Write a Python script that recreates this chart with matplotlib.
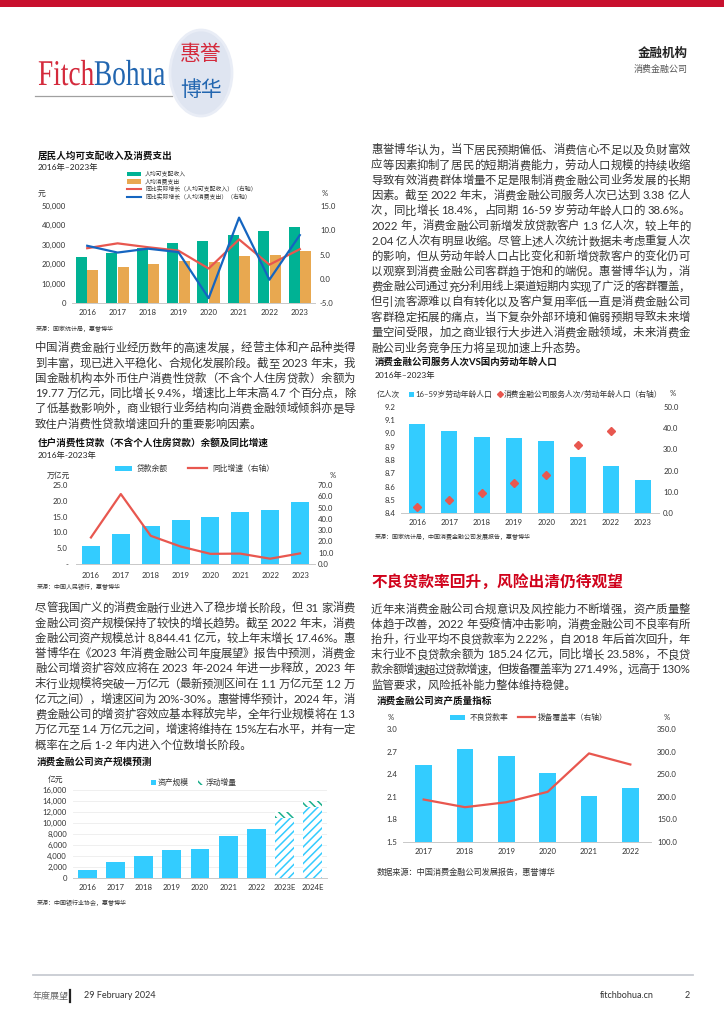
import re
import numpy as np
import matplotlib
matplotlib.use('Agg')
import matplotlib.pyplot as plt
from matplotlib.patches import Ellipse, Rectangle, PathPatch
from matplotlib.font_manager import FontProperties
from matplotlib.ticker import FuncFormatter
from matplotlib.textpath import TextPath
from matplotlib.transforms import Affine2D

W, H = 724, 1024
FAM = ['Lato', 'Noto Sans CJK SC', 'DejaVu Sans']
plt.rcParams['font.family'] = FAM
plt.rcParams['hatch.linewidth'] = 1.1

# ---- data ----
years = ['2016', '2017', '2018', '2019', '2020', '2021', '2022', '2023']
income = [23821, 25974, 28228, 30733, 32189, 35128, 36883, 39218]
spend = [17111, 18322, 19853, 21559, 21210, 24100, 24538, 26796]
income_growth = [6.3, 7.3, 6.5, 5.8, 2.1, 8.1, 2.9, 6.1]
spend_growth = [6.8, 5.4, 6.2, 5.5, -4.0, 12.6, -0.2, 9.0]

loan_balance = [5.8, 9.5, 11.9, 13.8, 15.0, 16.5, 17.2, 19.77]
loan_growth = [23.5, 62.0, 25.0, 15.5, 9.0, 9.2, 4.7, 9.4]

asset_years = ['2016', '2017', '2018', '2019', '2020', '2021', '2022', '2023E', '2024E']
asset_scale = [1520, 2920, 4010, 5110, 5290, 7660, 8844, 11000, 13000]
asset_float = [0, 0, 0, 0, 0, 0, 0, 1000, 1000]

labor_pop = [9.0747, 9.0199, 8.9729, 8.9640, 8.9438, 8.8222, 8.7556, 8.6481]
served_ratio = [2.8, 6.3, 9.3, 14.0, 18.1, 32.2, 38.6, np.nan]

npl_years = ['2017', '2018', '2019', '2020', '2021', '2022']
npl_rate = [2.52, 2.74, 2.64, 2.41, 2.11, 2.22]
provision = [194, 177, 188, 211, 296, 271.49]

CYAN = '#33ccff'
RED = '#e8574f'
GREEN = '#00b294'
ORANGE = '#e8a850'
BLUE = '#1565c0'
TXT = '#333333'

fig = plt.figure(figsize=(W / 100, H / 100), dpi=100)
ov = fig.add_axes([0, 0, 1, 1])
ov.set_xlim(0, W)
ov.set_ylim(H, 0)
ov.axis('off')
rend = fig.canvas.get_renderer()


def px_axes(l, t, r, b):
    return fig.add_axes([l / W, 1 - b / H, (r - l) / W, (b - t) / H])


def T(x, y, s, size=6, **kw):
    kw.setdefault('va', 'center')
    kw.setdefault('color', TXT)
    return ov.text(x, y, s, fontsize=size, **kw)


def para(x0, y0, width, lines, size=8.2, lh=15.2):
    prop = FontProperties(family=FAM, size=size)
    for i, line in enumerate(lines):
        y = y0 + i * lh
        if i == len(lines) - 1:
            ov.text(x0, y, line, fontproperties=prop, va='center', color=TXT)
            continue
        toks = re.findall(r'[A-Za-z0-9.,%\-]+| +|.', line)
        ws = [rend.get_text_width_height_descent(t.replace(' ', '\u00a0'), prop, ismath=False)[0] for t in toks]
        extra = (width - sum(ws)) / max(len(toks) - 1, 1)
        x = x0
        for t, w in zip(toks, ws):
            if t.strip():
                ov.text(x, y, t, fontproperties=prop, va='center', ha='left', color=TXT)
            x += w + extra


def style(ax, lpad=4.3, xpad=4.5):
    for s in ['top', 'right', 'left']:
        ax.spines[s].set_visible(False)
    ax.spines['bottom'].set_color('#c8c8c8')
    ax.spines['bottom'].set_linewidth(0.7)
    ax.tick_params(axis='y', length=0, labelsize=5.6, colors=TXT, pad=lpad)
    ax.tick_params(axis='x', length=0, labelsize=5.6, colors=TXT, pad=xpad)
    ax.set_facecolor('none')


def style_r(ax, pad=3.5):
    for s in ['top', 'right', 'left', 'bottom']:
        ax.spines[s].set_visible(False)
    ax.tick_params(axis='y', length=0, labelsize=5.6, colors=TXT, pad=pad)


# ---- header ----
ov.add_patch(Rectangle((0, 0), W, 7, color='#c8102e', lw=0))
# condensed serif wordmark, stretched to the logo's box
lp = FontProperties(family=['Liberation Serif', 'DejaVu Serif'])
p_f = TextPath((0, 0), 'Fitch', size=1, prop=lp)
p_b = TextPath((0, 0), 'Bohua', size=1, prop=lp)
w_f = p_f.get_extents().x1
w_all = w_f + p_b.get_extents().x1
sx = 127 / w_all
sy = 24 / 0.662
tr_f = Affine2D().scale(sx, -sy).translate(38, 85)
tr_b = Affine2D().scale(sx, -sy).translate(38 + w_f * sx, 85)
ov.add_patch(PathPatch(tr_f.transform_path(p_f), facecolor='#d42a3c', lw=0))
ov.add_patch(PathPatch(tr_b.transform_path(p_b), facecolor='#2266b0', lw=0))
ov.add_patch(Ellipse((201, 73), 62, 86, facecolor='#dfe5f1', edgecolor='#e9edf6', lw=2))
T(201, 54, '惠誉', size=15, ha='center', color='#d42a3c', family=['Noto Sans CJK SC'])
T(201, 90, '博华', size=15, ha='center', color='#2266b0', family=['Noto Sans CJK SC'])
T(688, 53, '金融机构', size=9, ha='right', weight='bold', color='#222222')
T(688, 69, '消费金融公司', size=6.5, ha='right', color='#555555')
ov.plot([35, 172], [96, 96], color='#a0a0a0', lw=0.9)

# ---- body text ----
para(35, 348, 320, [
    '中国消费金融行业经历数年的高速发展，经营主体和产品种类得',
    '到丰富，现已进入平稳化、合规化发展阶段。截至 2023 年末，我',
    '国金融机构本外币住户消费性贷款（不含个人住房贷款）余额为',
    '19.77 万亿元，同比增长 9.4%，增速比上年末高 4.7 个百分点，除',
    '了低基数影响外，商业银行业务结构向消费金融领域倾斜亦是导',
    '致住户消费性贷款增速回升的重要影响因素。',
])
para(35, 608, 320, [
    '尽管我国广义的消费金融行业进入了稳步增长阶段，但 31 家消费',
    '金融公司资产规模保持了较快的增长趋势。截至 2022 年末，消费',
    '金融公司资产规模总计 8,844.41 亿元，较上年末增长 17.46%。惠',
    '誉博华在《2023 年消费金融公司年度展望》报告中预测，消费金',
    '融公司增资扩容效应将在 2023 年-2024 年进一步释放，2023 年',
    '末行业规模将突破一万亿元（最新预测区间在 1.1 万亿元至 1.2 万',
    '亿元之间），增速区间为 20%-30%。惠誉博华预计，2024 年，消',
    '费金融公司的增资扩容效应基本释放完毕，全年行业规模将在 1.3',
    '万亿元至 1.4 万亿元之间，增速将维持在 15%左右水平，并有一定',
    '概率在之后 1-2 年内进入个位数增长阶段。',
])
para(371, 150, 319, [
    '惠誉博华认为，当下居民预期偏低、消费信心不足以及负财富效',
    '应等因素抑制了居民的短期消费能力，劳动人口规模的持续收缩',
    '导致有效消费群体增量不足是限制消费金融公司业务发展的长期',
    '因素。截至 2022 年末，消费金融公司服务人次已达到 3.38 亿人',
    '次，同比增长 18.4%，占同期 16-59 岁劳动年龄人口的 38.6%。',
    '2022 年，消费金融公司新增发放贷款客户 1.3 亿人次，较上年的',
    '2.04 亿人次有明显收缩。尽管上述人次统计数据未考虑重复人次',
    '的影响，但从劳动年龄人口占比变化和新增贷款客户的变化仍可',
    '以观察到消费金融公司客群趋于饱和的端倪。惠誉博华认为，消',
    '费金融公司通过充分利用线上渠道短期内实现了广泛的客群覆盖，',
    '但引流客源难以自有转化以及客户复用率低一直是消费金融公司',
    '客群稳定拓展的痛点，当下复杂外部环境和偏弱预期导致未来增',
    '量空间受限，加之商业银行大步进入消费金融领域，未来消费金',
    '融公司业务竞争压力将呈现加速上升态势。',
])
T(372, 582, '不良贷款率回升，风险出清仍待观望', size=11.3, weight='bold', color='#d0021b')
para(371, 609, 319, [
    '近年来消费金融公司合规意识及风控能力不断增强，资产质量整',
    '体趋于改善，2022 年受疫情冲击影响，消费金融公司不良率有所',
    '抬升，行业平均不良贷款率为 2.22%，自 2018 年后首次回升，年',
    '末行业不良贷款余额为 185.24 亿元，同比增长 23.58%，不良贷',
    '款余额增速超过贷款增速，但拨备覆盖率为 271.49%，远高于 130%',
    '监管要求，风险抵补能力整体维持稳健。',
])

comma = FuncFormatter(lambda v, p: f'{v:,.0f}')
one = FuncFormatter(lambda v, p: f'{v:.1f}')

# ---- chart 1 ----
T(38, 156, '居民人均可支配收入及消费支出', size=6.9, weight='bold', color='#111111')
T(38, 167, '2016年–2023年', size=6, color='#222222')
leg1 = [('rect', GREEN, '人均可支配收入'), ('rect', ORANGE, '人均消费支出'),
        ('line', RED, '同比实际增长（人均可支配收入）（右轴）'),
        ('line', BLUE, '同比实际增长（人均消费支出）（右轴）')]
for i, (kind, c, lab) in enumerate(leg1):
    yy = 174 + i * 7.6
    if kind == 'rect':
        ov.add_patch(Rectangle((127, yy - 2.2), 14, 4.4, color=c, lw=0))
    else:
        ov.plot([127, 141], [yy, yy], color=c, lw=1.5)
    T(145, yy, lab, size=4.2)
T(38, 193, '元', size=5.6)
T(322, 193, '%', size=5.6)
ax1 = px_axes(72, 206, 315, 303)
x = np.arange(len(years))
ax1.bar(x - 0.19, income, 0.36, color=GREEN)
ax1.bar(x + 0.19, spend, 0.36, color=ORANGE)
ax1.set_xlim(-0.5, len(years) - 0.5)
ax1.set_ylim(0, 50000)
ax1.set_yticks(np.arange(0, 50001, 10000))
ax1.yaxis.set_major_formatter(comma)
ax1.set_xticks(x)
ax1.set_xticklabels(years)
style(ax1, lpad=4.3, xpad=4.5)
ax1b = ax1.twinx()
ax1b.plot(x, income_growth, color=RED, lw=1.6)
ax1b.plot(x, spend_growth, color=BLUE, lw=1.6)
ax1b.set_ylim(-5, 15)
ax1b.set_yticks(np.arange(-5, 15.1, 5))
ax1b.yaxis.set_major_formatter(one)
style_r(ax1b, pad=3.6)
T(36, 329, '来源：国家统计局，惠誉博华', size=4.3)

# ---- chart 2 ----
T(38, 443, '住户消费性贷款（不含个人住房贷款）余额及同比增速', size=6.9, weight='bold', color='#111111')
T(38, 455, '2016年-2023年', size=6, color='#222222')
ov.add_patch(Rectangle((115, 465.5), 17, 5, color=CYAN, lw=0))
T(137, 468, '贷款余额', size=5.6)
ov.plot([188, 207], [468, 468], color=RED, lw=1.6)
T(212, 468, '同比增速（右轴）', size=5.6)
T(47, 475, '万亿元', size=5.6)
T(330, 475, '%', size=5.6)
ax2 = px_axes(76, 485, 315, 564)
ax2.bar(x, loan_balance, 0.6, color=CYAN)
ax2.set_xlim(-0.5, len(years) - 0.5)
ax2.set_ylim(0, 25)
ax2.set_yticks(np.arange(0, 25.1, 5))
ax2.yaxis.set_major_formatter(FuncFormatter(lambda v, p: '-' if v == 0 else f'{v:.1f}'))
ax2.set_xticks(x)
ax2.set_xticklabels(years)
style(ax2, lpad=5.8, xpad=5.5)
ax2b = ax2.twinx()
ax2b.plot(x, loan_growth, color=RED, lw=1.6)
ax2b.set_ylim(0, 70)
ax2b.set_yticks(np.arange(0, 70.1, 10))
ax2b.yaxis.set_major_formatter(one)
style_r(ax2b, pad=2.2)
T(37, 587, '来源：中国人民银行，惠誉博华', size=4.3)

# ---- chart 3 ----
T(37, 762, '消费金融公司资产规模预测', size=6.9, weight='bold', color='#111111')
T(48, 779, '亿元', size=5.6)
ov.add_patch(Rectangle((151, 779.5), 5, 5, color=CYAN, lw=0))
T(158, 782, '资产规模', size=5.6)
ov.add_patch(Rectangle((198, 779.5), 6, 5, facecolor='white', edgecolor='#1aaf8b', hatch='\\\\\\\\', lw=0))
T(206, 782, '浮动增量', size=5.6)
ax3 = px_axes(73, 790, 327, 878)
xa = np.arange(len(asset_years))
solid = [v if f == 0 else 0 for v, f in zip(asset_scale, asset_float)]
est = [v if f > 0 else 0 for v, f in zip(asset_scale, asset_float)]
ax3.bar(xa, solid, 0.67, color=CYAN, zorder=3)
ax3.bar(xa, est, 0.67, facecolor='white', edgecolor=CYAN, hatch='////', lw=0, zorder=3)
ax3.bar(xa, asset_float, 0.67, bottom=asset_scale, facecolor='white', edgecolor='#1aaf8b',
        hatch='\\\\\\\\', lw=0, zorder=3)
ax3.set_xlim(-0.5, len(asset_years) - 0.5)
ax3.set_ylim(0, 16000)
ax3.set_yticks(np.arange(0, 16001, 2000))
ax3.yaxis.set_major_formatter(comma)
ax3.set_xticks(xa)
ax3.set_xticklabels(asset_years)
ax3.grid(axis='y', color='#ececec', lw=0.6, zorder=0)
style(ax3, lpad=4.3, xpad=4.5)
T(37, 903, '来源：中国银行业协会，惠誉博华', size=4.3)

# ---- chart 4 ----
T(375, 362, '消费金融公司服务人次VS国内劳动年龄人口', size=6.8, weight='bold', color='#111111')
T(375, 375, '2016年–2023年', size=6, color='#222222')
T(377, 394, '亿人次', size=5.6)
ov.add_patch(Rectangle((409, 391.5), 5, 5, color=CYAN, lw=0))
T(415, 394, '16–59岁劳动年龄人口', size=5.6)
ov.plot([500], [394], marker='D', color=RED, ms=3, lw=0)
T(504, 394, '消费金融公司服务人次/劳动年龄人口（右轴）', size=5.6)
T(670, 394, '%', size=5.6)
ax4 = px_axes(401, 407, 659, 513)
ax4.bar(x, labor_pop, 0.5, color=CYAN)
ax4.set_xlim(-0.5, len(years) - 0.5)
ax4.set_ylim(8.4, 9.2)
ax4.set_yticks(np.arange(8.4, 9.21, 0.1))
ax4.yaxis.set_major_formatter(one)
ax4.set_xticks(x)
ax4.set_xticklabels(years)
style(ax4, lpad=4.3, xpad=4.5)
ax4b = ax4.twinx()
ax4b.plot(x, served_ratio, marker='D', color=RED, ms=4, lw=0)
ax4b.set_ylim(0, 50)
ax4b.set_yticks(np.arange(0, 50.1, 10))
ax4b.yaxis.set_major_formatter(one)
style_r(ax4b, pad=3)
T(375, 537, '来源：国家统计局，中国消费金融公司发展报告，惠誉博华', size=4.3)

# ---- chart 5 ----
T(377, 701, '消费金融公司资产质量指标', size=6.9, weight='bold', color='#111111')
ov.add_patch(Rectangle((450, 714.5), 15, 5, color=CYAN, lw=0))
T(470, 717, '不良贷款率', size=5.6)
ov.plot([518, 535], [717, 717], color=RED, lw=1.6)
T(538, 717, '拨备覆盖率（右轴）', size=5.6)
T(388, 718, '%', size=5.6)
T(664, 718, '%', size=5.6)
ax5 = px_axes(403, 729, 651, 842)
xn = np.arange(len(npl_years))
ax5.bar(xn, npl_rate, 0.4, color=CYAN)
ax5.set_xlim(-0.5, len(npl_years) - 0.5)
ax5.set_ylim(1.5, 3.0)
ax5.set_yticks(np.arange(1.5, 3.01, 0.3))
ax5.yaxis.set_major_formatter(one)
ax5.set_xticks(xn)
ax5.set_xticklabels(npl_years)
style(ax5, lpad=4.3, xpad=4.5)
ax5b = ax5.twinx()
ax5b.plot(xn, provision, color=RED, lw=1.6)
ax5b.set_ylim(100, 350)
ax5b.set_yticks(np.arange(100, 350.1, 50))
ax5b.yaxis.set_major_formatter(one)
style_r(ax5b, pad=4.3)
T(377, 872, '数据来源：中国消费金融公司发展报告，惠誉博华', size=5.9)

# ---- footer ----
ov.plot([33, 693], [975, 975], color='#c8ccd2', lw=1.3)
T(33, 996, '年度展望', size=6.5, color='#666666')
ov.plot([70, 70], [990, 1002], color='#222222', lw=1.6)
T(84, 996, '29 February 2024', size=6.5)
T(600, 996, 'fitchbohua.cn', size=6.5)
T(690, 996, '2', size=6.5, ha='right')

fig.savefig('out.png', dpi=100)
